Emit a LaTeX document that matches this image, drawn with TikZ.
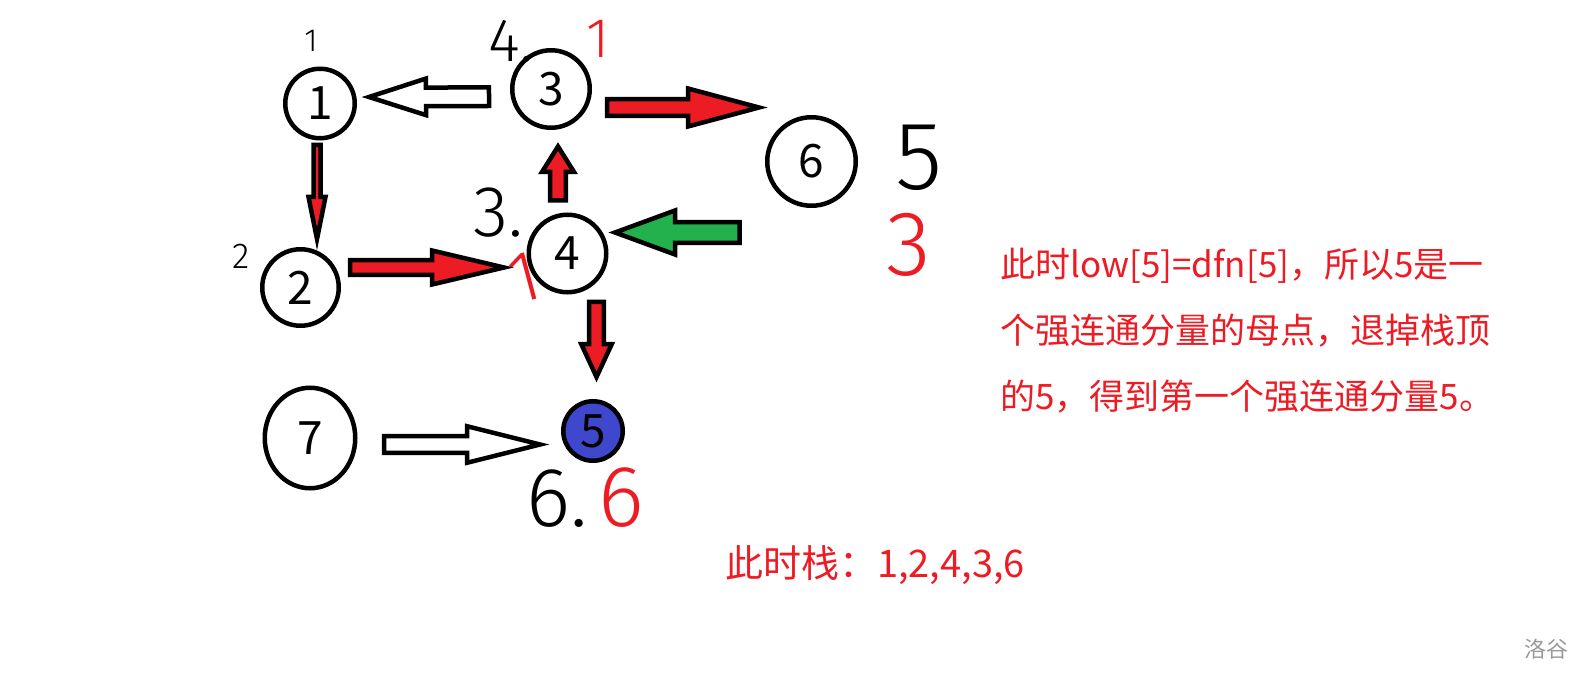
\documentclass[tikz,border=0pt]{standalone}
\usepackage{fontspec}
\setmainfont{Noto Sans CJK SC}
\newfontfamily\handfont{Fira Sans Light}
\usepackage{tikz}
\usetikzlibrary{calc,shapes.geometric}
\definecolor{paintRed}{HTML}{ED1C24}
\definecolor{paintGreen}{HTML}{22B14C}
\definecolor{paintIndigo}{HTML}{3F48CC}
\definecolor{markGray}{HTML}{9A9A9A}
\tikzset{
  bw/.store in=\blkw, bh/.store in=\blkh, bl/.store in=\blkl,
  bw=8pt, bh=18pt, bl=70pt
}

\begin{document}
\begin{tikzpicture}[
  x=1pt, y=-1pt,
  vertex/.style={circle,draw=black,line width=4.5pt,minimum size=#1,inner sep=0pt,
                 font=\fontsize{46}{46}\selectfont},
  hand/.style={inner sep=0pt,font=\handfont\fontsize{#1}{#1}\selectfont},
  blk/.style={draw=black,line width=4.5pt,line join=miter,fill=#1,
    to path={
      ($(\tikztostart)!\blkw!90:(\tikztotarget)$)
      -- ($($(\tikztotarget)!\blkl!(\tikztostart)$)!\blkw!90:(\tikztotarget)$)
      -- ($($(\tikztotarget)!\blkl!(\tikztostart)$)!\blkh!90:(\tikztotarget)$)
      -- (\tikztotarget)
      -- ($($(\tikztotarget)!\blkl!(\tikztostart)$)!\blkh!-90:(\tikztotarget)$)
      -- ($($(\tikztotarget)!\blkl!(\tikztostart)$)!\blkw!-90:(\tikztotarget)$)
      -- ($(\tikztostart)!\blkw!-90:(\tikztotarget)$)
      -- cycle}}
]
\useasboundingbox (0,0) rectangle (1594,684);

% nodes
\node[vertex=69.5pt] (n1) at (320,103.5) {1};
\node[vertex=77.5pt] (n3) at (551,89) {3};
\node[vertex=76.5pt] (n2) at (300.5,287.5) {2};
\node[vertex=77.5pt] (n4) at (567.5,253.5) {4};
\node[vertex=88.5pt] (n6) at (811.5,161.5) {6};
\node[vertex=59.5pt, fill=paintIndigo] (n5) at (593,431) {5};
\node[ellipse, draw=black, line width=4.5pt, minimum width=90.5pt, minimum height=100.5pt,
      inner sep=0pt, font=\fontsize{46}{46}\selectfont] (n7) at (310,438) {7};

% hand marks: dfn black, low red
\node[hand=32] (dfn1) at (311,41) {1};
\node[hand=61] (dfn3) at (511,41) {4.};
\node[hand=56, text=paintRed] (low3) at (598,39) {1};
\node[hand=36] (dfn2) at (241,256) {2};
\node[hand=72] (dfn4) at (498,213) {3.};
\node[hand=72, text=paintRed, rotate=15] (low4) at (525,278) {1};
\node[hand=97] (dfn6) at (919,158) {5};
\node[hand=92, text=paintRed] (low6) at (909,245) {3};
\node[hand=84] (dfn5) at (557,499) {6.};
\node[hand=87, text=paintRed] (low5) at (621,498) {6};

% texts
\node[anchor=west, align=left, text=paintRed, inner sep=0pt,
      font=\fontsize{35}{66}\selectfont] (note) at (1000,331)
  {此时low[5]=dfn[5]，所以5是一\\个强连通分量的母点，退掉栈顶\\的5，得到第一个强连通分量5。};
\node[anchor=west, text=paintRed, inner sep=0pt, font=\fontsize{38}{38}\selectfont]
  (stack) at (725,565) {此时栈：1,2,4,3,6};
\node[text=markGray, inner sep=0pt, font=\fontsize{22}{22}\selectfont] (mark) at (1546,649) {洛谷};

% arrow ends
\coordinate (a31s) at (489,96.7);  \coordinate (a31t) at (369,97);
\coordinate (a12s) at (317,145);   \coordinate (a12t) at (317,239);
\coordinate (a24s) at (350,267.5); \coordinate (a24t) at (504,267.5);
\coordinate (a43s) at (558,200.5); \coordinate (a43t) at (558,146.5);
\coordinate (a36s) at (607,107.5); \coordinate (a36t) at (759,107.5);
\coordinate (g4s)  at (739.5,232.5); \coordinate (g4t) at (615,232.5);
\coordinate (a45s) at (596.5,302); \coordinate (a45t) at (596.5,377);
\coordinate (a75s) at (384,444.5); \coordinate (a75t) at (540,444.5);

% arrows
\draw[blk=white, bw=9.3pt, bh=18.3pt, bl=57pt] (a31s) to (a31t);
\draw[blk=paintRed, bw=3.5pt, bh=8.5pt, bl=42pt] (a12s) to (a12t);
\draw[blk=paintRed, bw=7.3pt, bh=17pt, bl=72pt] (a24s) to (a24t);
\draw[blk=paintRed, bw=7.8pt, bh=16pt, bl=25.5pt] (a43s) to (a43t);
\draw[blk=paintRed, bw=8.3pt, bh=19pt, bl=71pt] (a36s) to (a36t);
\draw[blk=paintGreen, bw=10.3pt, bh=22pt, bl=60pt] (g4s) to (g4t);
\draw[blk=paintRed, bw=7.3pt, bh=15.3pt, bl=33pt] (a45s) to (a45t);
\draw[blk=white, bw=8.3pt, bh=18.3pt, bl=73pt] (a75s) to (a75t);
\end{tikzpicture}
\end{document}
